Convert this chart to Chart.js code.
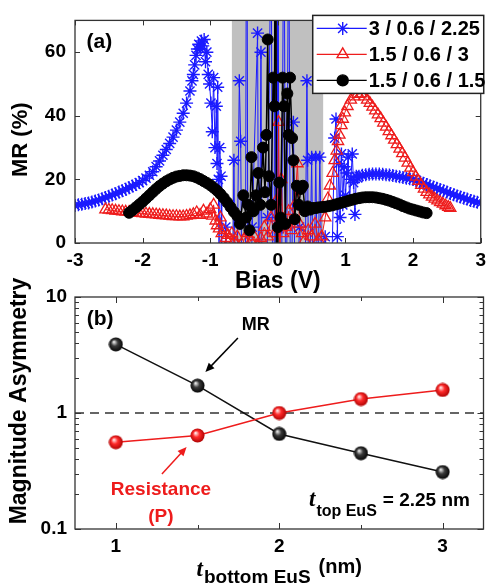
<!DOCTYPE html>
<html>
<head>
<meta charset="utf-8">
<script src="https://cdn.jsdelivr.net/npm/chart.js"></script>
<style>
  html, body { margin: 0; padding: 0; background: #fff; }
  #wrap { position: relative; width: 492px; height: 587px; overflow: hidden; }
  #chartA { position: absolute; left: 0; top: 0; }
  #chartB { position: absolute; left: 0; top: 262px; }
</style>
</head>
<body>
<div id="wrap">
  <canvas id="chartA" width="492" height="300"></canvas>
  <canvas id="chartB" width="492" height="325"></canvas>
</div>
<script>
// ---- panel (a) data: MR (%) vs bias (V) ----
const seriesNames = ['3 / 0.6 / 2.25', '1.5 / 0.6 / 3', '1.5 / 0.6 / 1.5'];

const blueBias = [-3.00,-2.95,-2.90,-2.85,-2.80,-2.75,-2.70,-2.65,-2.60,-2.55,-2.50,-2.45,-2.40,-2.35,-2.30,-2.25,-2.20,-2.15,-2.10,-2.05,
  -2.00,-1.95,-1.90,-1.85,-1.80,-1.75,-1.70,-1.65,-1.60,-1.55,-1.50,-1.45,-1.40,-1.35,-1.30,-1.27,-1.25,-1.23,-1.21,-1.19,
  -1.17,-1.15,-1.13,-1.11,-1.09,-1.07,-1.05,-1.03,-1.01,-0.99,-0.97,-0.95,-0.93,-0.91,-0.90,-0.89,-0.88,-0.87,-0.86,-0.84,
  -0.83,-0.80,-0.77,-0.74,-0.68,-0.65,-0.62,-0.57,-0.55,-0.52,-0.48,-0.46,-0.44,-0.38,-0.30,-0.28,-0.25,-0.22,-0.15,-0.10,
  -0.06,-0.04,-0.02,0.00,0.03,0.06,0.09,0.12,0.16,0.19,0.23,0.26,0.32,0.40,0.43,0.44,0.46,0.50,0.53,0.56,
  0.59,0.62,0.65,0.70,0.75,0.80,0.84,0.86,0.88,0.90,0.92,0.94,0.96,0.98,1.00,1.02,1.04,1.06,1.08,1.10,
  1.12,1.14,1.16,1.18,1.20,1.25,1.30,1.35,1.40,1.45,1.50,1.55,1.60,1.65,1.70,1.75,1.80,1.85,1.90,1.95,
  2.00,2.05,2.10,2.15,2.20,2.25,2.30,2.35,2.40,2.45,2.50,2.55,2.60,2.65,2.70,2.75,2.80,2.85,2.90,2.95,3.00];
const blueMR = [11.8,12.0,12.2,12.4,12.6,12.9,13.2,13.5,13.9,14.3,14.7,15.1,15.5,16.0,16.4,16.9,17.4,17.9,18.4,19.0,
  19.6,20.4,21.3,22.4,24.0,25.8,27.6,29.4,31.3,33.3,35.5,38.0,40.8,44.0,47.8,51,53,56,59,61,
  62.5,61,63.5,62,64,57,60,53,50,44,35,52,30,43,25,49,20,-10,30,21,
  -20,-30,5,-15,-40,26,-40,51,32,-50,-20,150,-60,5,66,-40,60,-80,8,100,
  -100,200,-200,150,-150,5,120,-50,110,-40,38,-30,5,-20,51,26,-30,27,-30,27,
  -20,27,-10,2,-8,-5,33,39,2,25,8,28,12,24,15,22,27,14,20,28,
  19,9,21,20.5,21,21.3,21.5,21.6,21.7,21.7,21.7,21.6,21.5,21.4,21.2,21.0,20.8,20.6,20.4,20.2,
  20.0,19.6,19.2,18.8,18.4,18.0,17.6,17.2,16.8,16.4,16.0,15.6,15.2,14.8,14.5,14.1,13.8,13.4,13.1,12.8,12.5];

const redBias = [-2.55,-2.50,-2.45,-2.40,-2.35,-2.30,-2.25,-2.20,-2.15,-2.10,-2.05,-2.00,-1.95,-1.90,-1.85,-1.80,-1.75,-1.70,-1.65,-1.60,
  -1.55,-1.50,-1.45,-1.40,-1.35,-1.30,-1.25,-1.20,-1.15,-1.10,-1.05,-1.00,-0.97,-0.95,-0.92,-0.90,-0.87,-0.85,-0.83,-0.80,
  -0.77,-0.74,-0.71,-0.68,-0.65,-0.60,-0.55,-0.50,-0.45,-0.40,-0.35,-0.30,-0.25,-0.20,-0.15,-0.10,-0.05,-0.03,-0.01,0.01,
  0.03,0.05,0.08,0.12,0.16,0.20,0.25,0.29,0.32,0.36,0.40,0.45,0.50,0.55,0.60,0.65,0.70,0.74,0.77,0.81,
  0.84,0.87,0.89,0.91,0.94,0.96,0.99,1.03,1.08,1.13,1.18,1.23,1.28,1.32,1.36,1.40,1.44,1.48,1.52,1.56,
  1.60,1.64,1.68,1.72,1.76,1.80,1.84,1.88,1.92,1.96,2.00,2.04,2.08,2.12,2.16,2.20,2.24,2.28,2.32,2.36,
  2.40,2.44,2.48,2.52,2.55];
const redMR = [10.5,10.4,10.3,10.1,10.0,9.9,9.8,9.7,9.6,9.5,9.4,9.3,9.2,9.1,9.0,8.9,8.8,8.7,8.6,8.5,
  8.4,8.4,8.3,8.3,8.5,8.7,9.0,9.6,8.8,10.1,9.2,10.6,8.5,12.0,7.0,5.5,4.5,8.0,3.0,4.0,
  1.5,2.5,1.0,3.0,0.5,2.0,-2.0,1.0,3.0,0.5,2.0,-1.0,1.5,5.0,2.0,8.0,3.0,13.0,-5.0,38.0,
  -10.0,20.0,3.0,5.0,10.0,4.0,12.0,25.0,6.0,3.0,1.0,4.0,2.0,6.0,1.0,2.0,8.0,14.0,18.0,22.0,
  26.0,29.0,32.0,34.0,37.0,39.0,41.0,43.0,45.0,46.0,46.8,47.0,46.0,45.0,44.0,42.8,41.6,40.4,39.2,37.8,
  36.5,35.1,33.8,32.4,31.0,29.6,28.2,26.8,25.2,23.6,22.2,20.8,19.5,18.2,17.0,16.0,15.2,14.5,13.9,13.3,
  12.8,12.3,11.8,11.3,11.0];

const blackBias = [-2.20,-2.15,-2.10,-2.05,-2.00,-1.95,-1.90,-1.85,-1.80,-1.75,-1.70,-1.65,-1.60,-1.55,-1.50,-1.45,-1.40,-1.35,-1.30,-1.25,
  -1.20,-1.15,-1.10,-1.05,-1.00,-0.95,-0.90,-0.85,-0.80,-0.75,-0.70,-0.65,-0.60,-0.56,-0.51,-0.47,-0.44,-0.42,-0.39,-0.36,
  -0.32,-0.29,-0.26,-0.22,-0.19,-0.17,-0.15,-0.13,-0.10,-0.07,-0.05,-0.03,-0.02,0.00,0.02,0.04,0.07,0.09,0.11,0.14,
  0.16,0.18,0.21,0.23,0.25,0.28,0.31,0.34,0.37,0.40,0.44,0.48,0.52,0.56,0.60,0.65,0.70,0.75,0.80,0.85,
  0.90,0.95,1.00,1.05,1.10,1.15,1.20,1.25,1.30,1.35,1.40,1.45,1.50,1.55,1.60,1.65,1.70,1.75,1.80,1.85,
  1.90,1.95,2.00,2.05,2.10,2.15,2.20];
const blackMR = [9.5,10.3,11.2,12.1,13.0,14.0,15.0,16.0,17.0,17.9,18.7,19.4,20.0,20.5,20.9,21.1,21.3,21.3,21.2,21.0,
  20.6,20.1,19.5,18.9,18.2,17.4,16.5,15.4,14.2,12.8,11.3,9.8,8.5,6.0,15.0,8.0,12.0,4.0,27.0,10.0,
  15.0,22.0,12.0,30.0,16.0,34.0,64.0,21.0,12.0,52.0,43.0,150.0,-30.0,5.0,19.0,8.0,52.0,43.0,6.0,47.0,
  34.0,52.0,33.0,26.0,7.5,18.0,12.0,17.0,18.0,10.0,11.5,10.5,11.0,11.0,11.2,11.3,11.4,11.6,11.8,12.1,
  12.4,12.7,13.0,13.3,13.6,13.9,14.1,14.3,14.4,14.4,14.4,14.3,14.1,13.9,13.6,13.3,12.9,12.5,12.1,11.6,
  11.2,10.8,10.5,10.2,9.9,9.6,9.4];

const biasTicks = [-3, -2, -1, 0, 1, 2, 3];
const mrTicks = [0, 20, 40, 60];
const grayBand = [-0.68, 0.67];

// ---- panel (b) data: magnitude asymmetry vs bottom EuS thickness ----
const thickness = [1, 1.5, 2, 2.5, 3];
const mrAsym = [3.9, 1.72, 0.66, 0.45, 0.31];
const resAsym = [0.56, 0.64, 1.0, 1.32, 1.58];
const thickTicks = [1, 2, 3];
const thickMinor = [1.5, 2.5];
const asymTicks = [0.1, 1, 10];
const asymMinor = [0.2, 0.3, 0.4, 0.5, 0.6, 0.7, 0.8, 0.9, 2, 3, 4, 5, 6, 7, 8, 9];
const asymRange = [0.75, 3.25];

const fontFam = '"Liberation Sans", Arial, Helvetica, sans-serif';
Chart.defaults.font.family = fontFam;
Chart.defaults.color = '#000';

const toPts = (xs, ys) => xs.map((x, i) => ({ x: x, y: ys[i] }));

// box around plot + inward tick marks on all four sides
function frameAndTicks(chart, xMaj, xMin, yMaj, yMin, lenMaj, lenMin) {
    const { ctx, chartArea: a, scales } = chart;
    ctx.save();
    ctx.strokeStyle = '#333';
    ctx.lineWidth = 1.3;
    ctx.strokeRect(a.left, a.top, a.right - a.left, a.bottom - a.top);
    ctx.lineWidth = 1;
    ctx.beginPath();
    const xt = (v, len) => {
        const p = Math.round(scales.x.getPixelForValue(v)) + 0.5;
        ctx.moveTo(p, a.bottom); ctx.lineTo(p, a.bottom - len);
        ctx.moveTo(p, a.top); ctx.lineTo(p, a.top + len);
    };
    const yt = (v, len) => {
        const p = Math.round(scales.y.getPixelForValue(v)) + 0.5;
        ctx.moveTo(a.left, p); ctx.lineTo(a.left + len, p);
        ctx.moveTo(a.right, p); ctx.lineTo(a.right - len, p);
    };
    xMaj.forEach(v => xt(v, lenMaj));
    xMin.forEach(v => xt(v, lenMin));
    yMaj.forEach(v => yt(v, lenMaj));
    yMin.forEach(v => yt(v, lenMin));
    ctx.stroke();
    ctx.restore();
}

function rotatedTitle(ctx, text, cx, cy, size) {
    ctx.save();
    ctx.translate(cx, cy);
    ctx.rotate(-Math.PI / 2);
    ctx.textAlign = 'center';
    ctx.textBaseline = 'middle';
    ctx.fillStyle = '#000';
    ctx.font = 'bold ' + size + 'px ' + fontFam;
    ctx.fillText(text, 0, 0);
    ctx.restore();
}

function arrow(ctx, x0, y0, x1, y1, color) {
    const ang = Math.atan2(y1 - y0, x1 - x0);
    ctx.save();
    ctx.strokeStyle = color; ctx.fillStyle = color; ctx.lineWidth = 1.5;
    ctx.beginPath(); ctx.moveTo(x0, y0);
    ctx.lineTo(x1 - 7 * Math.cos(ang), y1 - 7 * Math.sin(ang)); ctx.stroke();
    ctx.beginPath();
    ctx.moveTo(x1, y1);
    ctx.lineTo(x1 - 9 * Math.cos(ang) + 4 * Math.sin(ang), y1 - 9 * Math.sin(ang) - 4 * Math.cos(ang));
    ctx.lineTo(x1 - 9 * Math.cos(ang) - 4 * Math.sin(ang), y1 - 9 * Math.sin(ang) + 4 * Math.cos(ang));
    ctx.closePath(); ctx.fill();
    ctx.restore();
}

// legend styles, same as the datasets
const legendStyles = [
    { color: '#1a1aff', pointStyle: 'star', radius: 6.5, fill: 'rgba(0,0,0,0)' },
    { color: '#ee1c1c', pointStyle: 'triangle', radius: 6.5, fill: 'rgba(0,0,0,0)' },
    { color: '#000000', pointStyle: 'circle', radius: 5.5, fill: '#000000' }
];

const panelA = {
    id: 'panelA',
    beforeDatasetsDraw(chart) {
        const { ctx, chartArea: a, scales: { x } } = chart;
        const x0 = x.getPixelForValue(grayBand[0]);
        const x1 = x.getPixelForValue(grayBand[1]);
        ctx.save();
        ctx.fillStyle = '#c0c0c0';
        ctx.fillRect(x0, a.top, x1 - x0, a.bottom - a.top);
        ctx.restore();
    },
    afterDraw(chart) {
        const { ctx, chartArea: a, scales: { x, y } } = chart;
        frameAndTicks(chart, biasTicks, [], mrTicks, [], 5, 3);

        ctx.save();
        ctx.fillStyle = '#000';
        ctx.font = 'bold 21px ' + fontFam;
        ctx.textBaseline = 'middle';
        ctx.textAlign = 'left';
        ctx.fillText('(a)', x.getPixelForValue(-2.83), y.getPixelForValue(63));
        ctx.restore();

        rotatedTitle(ctx, 'MR (%)', 21, (a.top + a.bottom) / 2 + 8, 22);

        // legend box, top right, overlapping the plot
        const bx = a.right - 168, by = a.top - 5, bw = 171, bh = 78;
        ctx.save();
        ctx.fillStyle = '#fff';
        ctx.fillRect(bx, by, bw, bh);
        ctx.strokeStyle = '#222';
        ctx.lineWidth = 1.5;
        ctx.strokeRect(bx, by, bw, bh);
        seriesNames.forEach((name, i) => {
            const st = legendStyles[i];
            const ly = by + 13 + i * 26;
            ctx.strokeStyle = st.color;
            ctx.lineWidth = 1.2;
            ctx.beginPath(); ctx.moveTo(bx + 4, ly); ctx.lineTo(bx + 54, ly); ctx.stroke();
            ctx.fillStyle = st.fill;
            ctx.lineWidth = 1.4;
            if (Chart.helpers && Chart.helpers.drawPoint) {
                Chart.helpers.drawPoint(ctx, { pointStyle: st.pointStyle, radius: st.radius, rotation: 0, borderWidth: 1.4 }, bx + 30, ly);
            }
            ctx.fillStyle = '#000';
            ctx.font = 'bold 20px ' + fontFam;
            ctx.textBaseline = 'middle';
            ctx.textAlign = 'left';
            ctx.fillText(name, bx + 56, ly + 1);
        });
        ctx.restore();
    }
};

new Chart(document.getElementById('chartA'), {
    type: 'scatter',
    data: {
        datasets: [
            { label: seriesNames[0], data: toPts(blueBias, blueMR), showLine: true, borderColor: '#1a1aff', borderWidth: 1,
              pointStyle: 'star', pointRadius: 6.5, pointBorderColor: '#1a1aff', pointBorderWidth: 1.4, order: 3 },
            { label: seriesNames[1], data: toPts(redBias, redMR), showLine: true, borderColor: '#ee1c1c', borderWidth: 1,
              pointStyle: 'triangle', pointRadius: 6.5, pointBackgroundColor: 'rgba(0,0,0,0)', pointBorderColor: '#ee1c1c', pointBorderWidth: 1.3, order: 2 },
            { label: seriesNames[2], data: toPts(blackBias, blackMR), showLine: true, borderColor: '#000', borderWidth: 1.5,
              pointStyle: 'circle', pointRadius: 5.5, pointBackgroundColor: '#000', pointBorderColor: '#000', pointBorderWidth: 1, order: 1 }
        ]
    },
    options: {
        responsive: false,
        animation: false,
        layout: { padding: { top: 10, right: 4, left: 0, bottom: 0 } },
        plugins: { legend: { display: false }, tooltip: { enabled: false } },
        scales: {
            x: {
                type: 'linear', min: -3, max: 3,
                grid: { display: false, drawTicks: false },
                border: { display: false },
                afterBuildTicks: s => { s.ticks = biasTicks.map(v => ({ value: v })); },
                afterFit: s => { s.height = 57; },
                ticks: { padding: 6, font: { size: 19, weight: 'bold' }, color: '#000', maxRotation: 0, callback: v => String(v) },
                title: { display: true, text: 'Bias (V)', font: { size: 23, weight: 'bold' }, color: '#000', padding: { top: 0, bottom: 5 } }
            },
            y: {
                type: 'linear', min: 0, max: 70,
                grid: { display: false, drawTicks: false },
                border: { display: false },
                afterBuildTicks: s => { s.ticks = mrTicks.map(v => ({ value: v })); },
                afterFit: s => { s.width = 75; },
                ticks: { padding: 9, font: { size: 19, weight: 'bold' }, color: '#000', callback: v => String(v) }
            }
        }
    },
    plugins: [panelA]
});

// glossy ball markers for panel (b)
function makeBall(light, mid, dark) {
    const c = document.createElement('canvas');
    c.width = 15; c.height = 15;
    const g = c.getContext('2d');
    const grad = g.createRadialGradient(5.5, 5, 0.5, 7.5, 7.5, 7.5);
    grad.addColorStop(0, light);
    grad.addColorStop(0.4, mid);
    grad.addColorStop(1, dark);
    g.fillStyle = grad;
    g.beginPath(); g.arc(7.5, 7.5, 7, 0, Math.PI * 2); g.fill();
    return c;
}
const blackBall = makeBall('#e6e6e6', '#3a3a3a', '#000000');
const redBall = makeBall('#ffe2e2', '#ff2a2a', '#a80000');

const panelB = {
    id: 'panelB',
    afterDraw(chart) {
        const { ctx, chartArea: a, scales: { x, y } } = chart;
        frameAndTicks(chart, thickTicks, thickMinor, asymTicks, asymMinor, 6, 4);
        const px = v => x.getPixelForValue(v);
        const py = v => y.getPixelForValue(v);

        ctx.save();
        ctx.textBaseline = 'middle';
        ctx.textAlign = 'left';
        ctx.fillStyle = '#000';
        ctx.font = 'bold 21px ' + fontFam;
        ctx.fillText('(b)', px(0.822), py(6.46));

        ctx.font = 'bold 18px ' + fontFam;
        ctx.fillText('MR', px(1.771), py(5.74));
        arrow(ctx, px(1.747), py(4.43), px(1.548), py(2.26), '#000');

        ctx.fillStyle = '#ee1c1c';
        ctx.textAlign = 'center';
        ctx.font = 'bold 19px ' + fontFam;
        ctx.fillText('Resistance', px(1.276), py(0.217));
        ctx.fillText('(P)', px(1.276), py(0.127));
        arrow(ctx, px(1.282), py(0.298), px(1.433), py(0.509), '#ee1c1c');

        // t_top EuS = 2.25 nm
        ctx.fillStyle = '#000';
        ctx.textAlign = 'left';
        ctx.textBaseline = 'alphabetic';
        let tx = px(2.182);
        const ty = py(0.158);
        ctx.font = 'bold italic 23px "Liberation Serif", "Times New Roman", serif';
        ctx.fillText('t', tx, ty);
        tx += ctx.measureText('t').width + 1;
        ctx.font = 'bold 16px ' + fontFam;
        ctx.fillText('top EuS', tx, ty + 10);
        tx += ctx.measureText('top EuS').width + 6;
        ctx.font = 'bold 19px ' + fontFam;
        ctx.fillText('= 2.25 nm', tx, ty);

        // x axis title: t_bottom EuS (nm)
        const f1 = 'bold italic 23px "Liberation Serif", "Times New Roman", serif';
        const f2 = 'bold 19px ' + fontFam;
        const f3 = 'bold 20px ' + fontFam;
        ctx.font = f1; const w1 = ctx.measureText('t').width + 1;
        ctx.font = f2; const w2 = ctx.measureText('bottom EuS').width + 8;
        ctx.font = f3; const w3 = ctx.measureText('(nm)').width;
        let sx = (a.left + a.right) / 2 - (w1 + w2 + w3) / 2;
        const base = a.bottom + 47;
        ctx.font = f1; ctx.fillText('t', sx, base); sx += w1;
        ctx.font = f2; ctx.fillText('bottom EuS', sx, base + 7); sx += w2;
        ctx.font = f3; ctx.fillText('(nm)', sx, base - 3);
        ctx.restore();

        rotatedTitle(ctx, 'Magnitude Asymmetry', 20, (a.top + a.bottom) / 2 - 12, 23);
    }
};

new Chart(document.getElementById('chartB'), {
    type: 'scatter',
    data: {
        datasets: [
            { label: 'ref', data: asymRange.map(v => ({ x: v, y: 1 })), showLine: true, borderColor: '#333', borderWidth: 1.5,
              borderDash: [9, 6], pointRadius: 0, order: 3 },
            { label: 'MR', data: toPts(thickness, mrAsym), showLine: true, borderColor: '#111', borderWidth: 1.5,
              pointStyle: blackBall, pointRadius: 7, order: 2 },
            { label: 'Resistance (P)', data: toPts(thickness, resAsym), showLine: true, borderColor: '#ee1c1c', borderWidth: 1.5,
              pointStyle: redBall, pointRadius: 7, order: 1 }
        ]
    },
    options: {
        responsive: false,
        animation: false,
        layout: { padding: { top: 35, right: 4, left: 0, bottom: 0 } },
        plugins: { legend: { display: false }, tooltip: { enabled: false } },
        scales: {
            x: {
                type: 'linear', min: asymRange[0], max: asymRange[1],
                grid: { display: false, drawTicks: false },
                border: { display: false },
                afterBuildTicks: s => { s.ticks = thickTicks.map(v => ({ value: v })); },
                afterFit: s => { s.height = 58; },
                ticks: { padding: 6, font: { size: 19, weight: 'bold' }, color: '#000', maxRotation: 0, callback: v => String(v) }
            },
            y: {
                type: 'logarithmic', min: 0.1, max: 10,
                grid: { display: false, drawTicks: false },
                border: { display: false },
                afterBuildTicks: s => { s.ticks = asymTicks.map(v => ({ value: v })); },
                afterFit: s => { s.width = 75; },
                ticks: { padding: 8, font: { size: 19, weight: 'bold' }, color: '#000', callback: v => String(v) }
            }
        }
    },
    plugins: [panelB]
});
</script>
</body>
</html>
